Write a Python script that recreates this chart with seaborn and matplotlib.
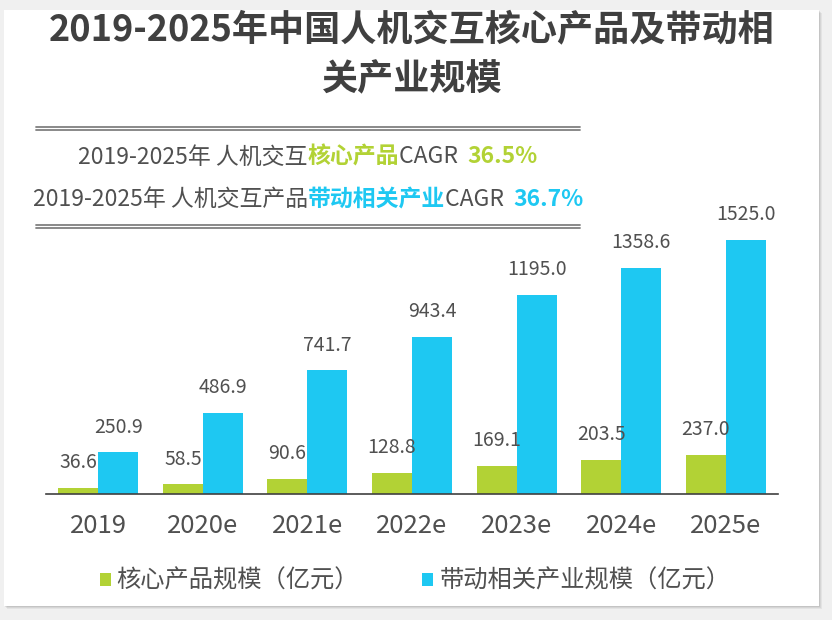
import numpy as np
import pandas as pd
import matplotlib
matplotlib.use('Agg')
import matplotlib.pyplot as plt
import seaborn as sns
from matplotlib.patches import Rectangle
from matplotlib.lines import Line2D

years = ['2019', '2020e', '2021e', '2022e', '2023e', '2024e', '2025e']
core = [36.6, 58.5, 90.6, 128.8, 169.1, 203.5, 237.0]
related = [250.9, 486.9, 741.7, 943.4, 1195.0, 1358.6, 1525.0]
series_names = ['核心产品规模（亿元）', '带动相关产业规模（亿元）']

GREEN = '#b2d235'
BLUE = '#1ec8f2'
DARK = '#404040'
GREY = '#505050'

sns.set_style('white')
plt.rcParams['font.family'] = ['Noto Sans CJK SC', 'DejaVu Sans']

df = pd.DataFrame({
    'year': years * 2,
    'value': core + related,
    'series': [series_names[0]] * len(years) + [series_names[1]] * len(years),
})

fig = plt.figure(figsize=(8.32, 6.2), dpi=100)
fig.patch.set_facecolor('#f0f0f0')
W, H = 832, 620

# card with soft shadow
for i, a in enumerate([0.05, 0.06, 0.08]):
    off = 3 - i
    fig.add_artist(Rectangle(((4 + off) / W, 1 - (606 + off) / H), 815 / W, 596 / H,
                             transform=fig.transFigure, facecolor='black', alpha=a,
                             edgecolor='none', zorder=-3))
fig.add_artist(Rectangle((4 / W, 1 - 606 / H), 815 / W, 596 / H, transform=fig.transFigure,
                         facecolor='white', edgecolor='none', zorder=-2))

ax = fig.add_axes([46 / W, 1 - 494 / H, 732 / W, 300 / H])
ax.set_facecolor('none')
sns.barplot(data=df, x='year', y='value', hue='series', palette=[GREEN, BLUE],
            width=0.765, saturation=1, ax=ax, errorbar=None, linewidth=0)
ax.set_ylim(0, 1800)
ax.set_xlim(-0.5, 6.5)
ax.set_xlabel('')
ax.set_ylabel('')
ax.set_yticks([])
for s in ['top', 'right', 'left']:
    ax.spines[s].set_visible(False)
ax.spines['bottom'].set_color('#404040')
ax.spines['bottom'].set_linewidth(1.2)
ax.tick_params(axis='x', length=0, pad=14, labelsize=18.5, labelcolor=GREY)

for cont in ax.containers:
    for bar in cont:
        h = bar.get_height()
        ax.annotate(f'{h:.1f}', (bar.get_x() + bar.get_width() / 2, h),
                    xytext=(0, 10.5), textcoords='offset points', ha='center', va='bottom',
                    fontsize=14, color=GREY)

sns.move_legend(ax, 'center', bbox_to_anchor=(415 / W, 1 - 581 / H),
                bbox_transform=fig.transFigure, ncol=2, frameon=False, title=None,
                fontsize=17.5, handlelength=0.45, handleheight=0.45, handletextpad=0.25,
                columnspacing=2.6)
for t in ax.get_legend().get_texts():
    t.set_color(GREY)

# title
fig.text(412 / W, 1 - 30 / H, '2019-2025年中国人机交互核心产品及带动相', ha='center', va='center',
         fontsize=26, fontweight='bold', color=DARK)
fig.text(412 / W, 1 - 80 / H, '关产业规模', ha='center', va='center',
         fontsize=26, fontweight='bold', color=DARK)

# double rules
for y in [126.5, 129.5, 224.5, 227.5]:
    fig.add_artist(Line2D([36 / W, 580 / W], [1 - y / H, 1 - y / H], color='#808080',
                          linewidth=1.3, transform=fig.transFigure))

# CAGR lines with mixed colours
lines = [
    (78, 157, [('2019-2025年 人机交互', GREY, 'normal'), ('核心产品', GREEN, 'bold'),
               ('CAGR ', GREY, 'normal'), ('36.5%', GREEN, 'bold')]),
    (33, 199, [('2019-2025年 人机交互产品', GREY, 'normal'), ('带动相关产业', BLUE, 'bold'),
               ('CAGR ', GREY, 'normal'), ('36.7%', BLUE, 'bold')]),
]
pieces = []
for x0, y0, parts in lines:
    row = [fig.text(x0 / W, 1 - y0 / H, txt, ha='left', va='center', fontsize=16.5,
                    color=col, fontweight=wt) for txt, col, wt in parts]
    pieces.append(row)

fig.canvas.draw()
r = fig.canvas.get_renderer()
for row in pieces:
    for prev, cur in zip(row[:-1], row[1:]):
        x1 = prev.get_window_extent(r).x1
        if prev.get_text().endswith(' '):
            x1 += 4
        cur.set_x(x1 / W)

fig.savefig('out.png', dpi=100, facecolor=fig.get_facecolor())
